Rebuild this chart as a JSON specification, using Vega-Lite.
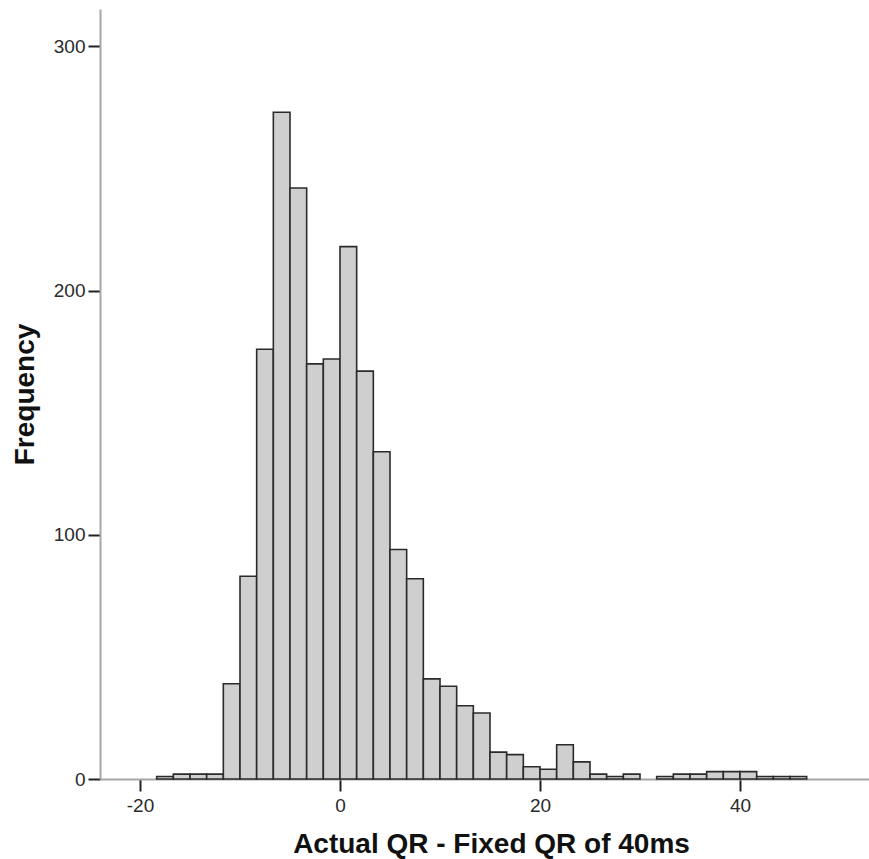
{
  "$schema": "https://vega.github.io/schema/vega-lite/v6.json",
  "width": 769,
  "height": 770,
  "autosize": {"type": "none"},
  "padding": {"left": 100, "top": 9, "right": 0, "bottom": 80},
  "background": "white",
  "config": {
    "view": {"stroke": null},
    "axis": {
      "grid": false,
      "domainColor": "#a6a6a6",
      "domainWidth": 2,
      "tickColor": "#222222",
      "tickWidth": 2,
      "tickSize": 12,
      "labelFont": "Liberation Sans",
      "labelFontSize": 19,
      "labelColor": "#2a2a2a",
      "titleFont": "Liberation Sans",
      "titleFontSize": 28,
      "titleFontWeight": "bold",
      "titleColor": "#111111"
    }
  },
  "data": {
    "values": [
      {"start": -18.333, "end": -16.667, "count": 1},
      {"start": -16.667, "end": -15, "count": 2},
      {"start": -15, "end": -13.333, "count": 2},
      {"start": -13.333, "end": -11.667, "count": 2},
      {"start": -11.667, "end": -10, "count": 39},
      {"start": -10, "end": -8.333, "count": 83},
      {"start": -8.333, "end": -6.667, "count": 176},
      {"start": -6.667, "end": -5, "count": 273},
      {"start": -5, "end": -3.333, "count": 242},
      {"start": -3.333, "end": -1.667, "count": 170},
      {"start": -1.667, "end": 0, "count": 172},
      {"start": 0, "end": 1.667, "count": 218},
      {"start": 1.667, "end": 3.333, "count": 167},
      {"start": 3.333, "end": 5, "count": 134},
      {"start": 5, "end": 6.667, "count": 94},
      {"start": 6.667, "end": 8.333, "count": 82},
      {"start": 8.333, "end": 10, "count": 41},
      {"start": 10, "end": 11.667, "count": 38},
      {"start": 11.667, "end": 13.333, "count": 30},
      {"start": 13.333, "end": 15, "count": 27},
      {"start": 15, "end": 16.667, "count": 11},
      {"start": 16.667, "end": 18.333, "count": 10},
      {"start": 18.333, "end": 20, "count": 5},
      {"start": 20, "end": 21.667, "count": 4},
      {"start": 21.667, "end": 23.333, "count": 14},
      {"start": 23.333, "end": 25, "count": 7},
      {"start": 25, "end": 26.667, "count": 2},
      {"start": 26.667, "end": 28.333, "count": 1},
      {"start": 28.333, "end": 30, "count": 2},
      {"start": 31.667, "end": 33.333, "count": 1},
      {"start": 33.333, "end": 35, "count": 2},
      {"start": 35, "end": 36.667, "count": 2},
      {"start": 36.667, "end": 38.333, "count": 3},
      {"start": 38.333, "end": 40, "count": 3},
      {"start": 40, "end": 41.667, "count": 3},
      {"start": 41.667, "end": 43.333, "count": 1},
      {"start": 43.333, "end": 45, "count": 1},
      {"start": 45, "end": 46.667, "count": 1}
    ]
  },
  "mark": {"type": "rect", "fill": "#cfcfcf", "stroke": "#2b2b2b", "strokeWidth": 1.6},
  "encoding": {
    "x": {
      "field": "start",
      "type": "quantitative",
      "scale": {"domain": [-24, 52.9], "nice": false, "zero": false},
      "axis": {
        "values": [-20, 0, 20, 40],
        "labelExpr": "datum.value + ''",
        "title": "Actual QR - Fixed QR of 40ms",
        "labelPadding": 5,
        "titleX": 391,
        "titleY": 51,
        "titleBaseline": "top"
      }
    },
    "x2": {"field": "end"},
    "y": {
      "field": "count",
      "type": "quantitative",
      "scale": {"domain": [0, 315.3], "nice": false},
      "axis": {
        "values": [0, 100, 200, 300],
        "title": "Frequency",
        "labelPadding": 3,
        "titleX": -61,
        "titleY": 385,
        "titleAngle": -90,
        "titleAlign": "center",
        "titleBaseline": "bottom"
      }
    },
    "y2": {"datum": 0}
  }
}
